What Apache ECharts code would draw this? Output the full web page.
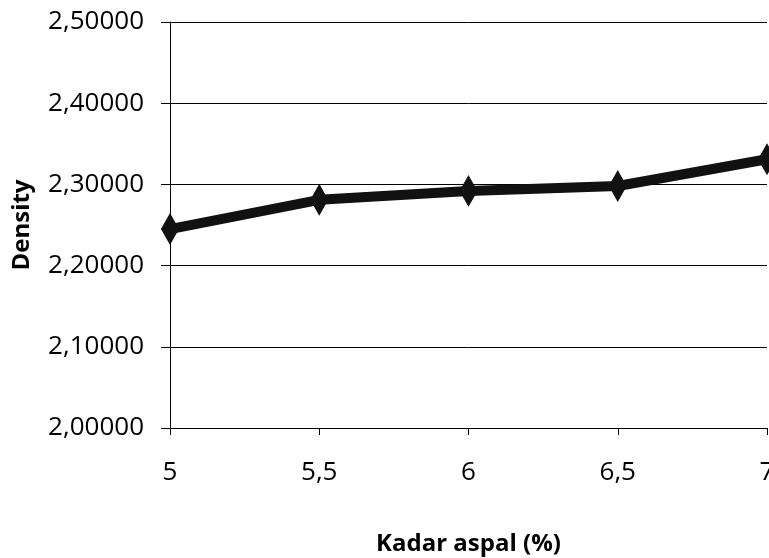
<!DOCTYPE html>
<html>
<head>
<meta charset="utf-8">
<script src="https://cdn.jsdelivr.net/npm/echarts@6/dist/echarts.min.js"></script>
<style>
	html, body { margin: 0; padding: 0; background: #fff; }
	#main { width: 769px; height: 558px; }
</style>
</head>
<body>
<div id="main"></div>
<script>
// data
var kadarAspal = [5, 5.5, 6, 6.5, 7];
var density = [2.245, 2.281, 2.292, 2.298, 2.331];

var myChart = echarts.init(document.getElementById('main'));
var font = 'Open Sans';

function koma(v, d) {
	return (d == null ? String(v) : v.toFixed(d)).replace('.', ',');
}

var option = {
	animation: false,
	grid: {
		left: 170,
		right: 2,
		top: 22,
		bottom: 130,
		outerBoundsMode: 'none',
		containLabel: false
	},
	xAxis: {
		type: 'value',
		min: 5,
		max: 7,
		interval: 0.5,
		name: 'Kadar aspal (%)',
		nameLocation: 'middle',
		nameGap: 104,
		nameTextStyle: { color: '#000', fontSize: 24, fontWeight: 'bold', fontFamily: font },
		axisLine: { show: true, lineStyle: { color: '#000', width: 1 } },
		axisTick: { show: true, length: 7, lineStyle: { color: '#000' } },
		axisLabel: {
			color: '#000', fontSize: 26, fontFamily: font, margin: 32,
			formatter: function(v) { return koma(v); }
		},
		splitLine: { show: false }
	},
	yAxis: {
		type: 'value',
		min: 2.0,
		max: 2.5,
		interval: 0.1,
		name: 'Density',
		nameLocation: 'middle',
		nameGap: 136,
		nameRotate: 90,
		nameTextStyle: { color: '#000', fontSize: 24, fontWeight: 'bold', fontFamily: font },
		axisLine: { show: true, lineStyle: { color: '#000', width: 1 } },
		axisTick: { show: true, length: 9, lineStyle: { color: '#000' } },
		axisLabel: {
			color: '#000', fontSize: 26, fontFamily: font, margin: 26,
			formatter: function(v) { return koma(v, 5); }
		},
		splitLine: { show: true, lineStyle: { color: '#000', width: 1 } }
	},
	series: [{
		type: 'line',
		data: kadarAspal.map(function(x, i) { return [x, density[i]]; }),
		symbol: 'diamond',
		symbolSize: [17, 30],
		showAllSymbol: true,
		lineStyle: { color: '#111', width: 10 },
		itemStyle: { color: '#111', borderColor: '#111' },
		clip: false
	}]
};
myChart.setOption(option);
</script>
</body>
</html>
